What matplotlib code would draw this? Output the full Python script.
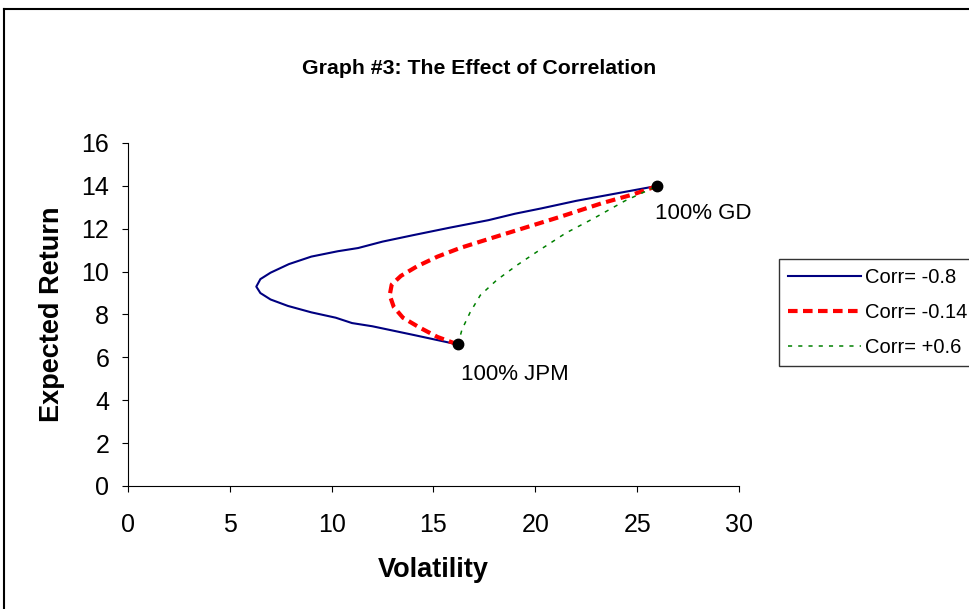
import matplotlib.pyplot as plt
from matplotlib.lines import Line2D

plt.rcParams['font.family'] = ['Liberation Sans', 'DejaVu Sans']

# Graph #3: efficient frontier for three correlations (volatility, expected return)
vol_m08 = [16.2, 14.0, 12.0, 11.0, 10.2, 9.0, 7.85, 7.0, 6.5, 6.3, 6.5, 7.0, 7.9,
           9.0, 10.3, 11.3, 12.5, 14.0, 15.8, 17.7, 19.0, 20.3, 22.0, 24.0, 26.0]
ret_m08 = [6.6, 7.05, 7.45, 7.6, 7.85, 8.1, 8.4, 8.7, 9.0, 9.3, 9.65, 9.95, 10.35,
           10.7, 10.95, 11.1, 11.4, 11.7, 12.05, 12.4, 12.7, 12.95, 13.3, 13.65, 14.0]
vol_m014 = [16.2, 15.2, 14.3, 13.5, 13.05, 12.85, 12.95, 13.4, 14.2, 15.2, 16.3,
            17.8, 19.5, 21.2, 23.3, 24.8, 26.0]
ret_m014 = [6.6, 6.95, 7.4, 7.85, 8.35, 8.9, 9.4, 9.8, 10.25, 10.7, 11.1,
            11.55, 12.05, 12.55, 13.2, 13.6, 14.0]
vol_p06 = [16.2, 16.4, 16.8, 17.3, 18.1, 19.1, 20.2, 21.5, 22.9, 24.4, 26.0]
ret_p06 = [6.6, 7.3, 8.1, 8.9, 9.6, 10.3, 11.0, 11.8, 12.5, 13.3, 14.0]
assets = ['100% GD', '100% JPM']
asset_vol = [26.0, 16.2]
asset_ret = [14.0, 6.6]

fig = plt.figure(figsize=(9.69, 6.09), dpi=100)
ax = fig.add_axes([0.1321, 0.2020, 0.6305, 0.5632])

ax.plot(vol_m08, ret_m08, color='#000080', lw=1.5, label='Corr= -0.8')
ax.plot(vol_m014, ret_m014, color='#FF0000', lw=3, linestyle=(0, (2.3, 1.3)), label='Corr= -0.14')
ax.plot(vol_p06, ret_p06, color='#008000', lw=1.1, linestyle=(0, (2.7, 4)), label='Corr= +0.6')
ax.plot(asset_vol, asset_ret, 'o', color='black', markersize=7.5, zorder=5)
ax.annotate(assets[0], (asset_vol[0], asset_ret[0]), xytext=(-2, -12), textcoords='offset points',
            ha='left', va='top', fontsize=16)
ax.annotate(assets[1], (asset_vol[1], asset_ret[1]), xytext=(2, -14), textcoords='offset points',
            ha='left', va='top', fontsize=16)

ax.set_xlim(0, 30)
ax.set_ylim(0, 16)
ax.set_xticks(range(0, 31, 5))
ax.set_yticks(range(0, 17, 2))
ax.tick_params(direction='out', length=4.5, width=0.8, labelsize=18)
ax.tick_params(axis='x', pad=15)
ax.tick_params(axis='y', pad=9)
ax.spines['top'].set_visible(False)
ax.spines['right'].set_visible(False)
ax.set_xlabel('Volatility', fontsize=19.5, fontweight='bold', labelpad=14)
ax.set_ylabel('Expected Return', fontsize=19.5, fontweight='bold', labelpad=12)
fig.text(0.4946, 0.887, 'Graph #3: The Effect of Correlation', ha='center', va='center',
         fontsize=15.3, fontweight='bold')

leg = fig.legend(loc='upper left', bbox_to_anchor=(0.804, 0.575), borderaxespad=0,
                 fontsize=14.5, frameon=True, fancybox=False, edgecolor='black',
                 handlelength=3.6, handletextpad=0.2, labelspacing=0.8, borderpad=0.45)
leg.get_frame().set_linewidth(1.0)

# outer chart border (top and left edges visible in the crop)
fig.add_artist(Line2D([0.004, 1.0], [0.986, 0.986], color='black', lw=1.5, transform=fig.transFigure))
fig.add_artist(Line2D([0.004, 0.004], [0.0, 0.986], color='black', lw=1.5, transform=fig.transFigure))

fig.savefig('out.png', dpi=100)
